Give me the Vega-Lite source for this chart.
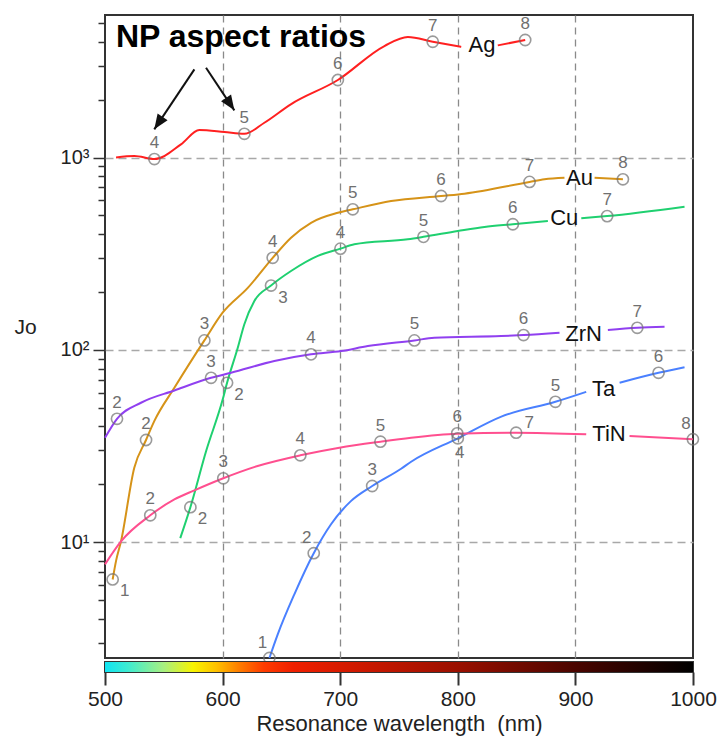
{
  "$schema": "https://vega.github.io/schema/vega-lite/v6.json",
  "autosize": {"type": "pad"},
  "padding": {"left": 12, "top": 12, "right": 2, "bottom": 5},
  "bounds": "flush",
  "spacing": 4,
  "background": "white",
  "config": {
    "font": "Liberation Sans",
    "view": {"stroke": "#333", "strokeWidth": 2}
  },
  "datasets": {
    "curves": [
      {"m":"Ag","s":"Ag1","w":509.4,"j":1000},{"m":"Ag","s":"Ag1","w":525,"j":1018},{"m":"Ag","s":"Ag1","w":542,"j":982},{"m":"Ag","s":"Ag1","w":564.6,"j":1171},{"m":"Ag","s":"Ag1","w":580.2,"j":1390},{"m":"Ag","s":"Ag1","w":601.5,"j":1358},{"m":"Ag","s":"Ag1","w":618.5,"j":1329},{"m":"Ag","s":"Ag1","w":635.5,"j":1517},{"m":"Ag","s":"Ag1","w":658,"j":1892},{"m":"Ag","s":"Ag1","w":698,"j":2530},{"m":"Ag","s":"Ag1","w":737.6,"j":3800},{"m":"Ag","s":"Ag1","w":757.5,"j":4233},{"m":"Ag","s":"Ag1","w":778.7,"j":4000},{"m":"Ag","s":"Ag1","w":802.9,"j":3760},
      {"m":"Ag","s":"Ag2","w":834,"j":3830},{"m":"Ag","s":"Ag2","w":857.3,"j":4085},
      {"m":"Au","s":"Au1","w":506.5,"j":6.4},{"m":"Au","s":"Au1","w":509.4,"j":8.0},{"m":"Au","s":"Au1","w":513.6,"j":10.1},{"m":"Au","s":"Au1","w":524.9,"j":24.4},{"m":"Au","s":"Au1","w":534.9,"j":34},{"m":"Au","s":"Au1","w":541.9,"j":42.6},{"m":"Au","s":"Au1","w":559,"j":63.5},{"m":"Au","s":"Au1","w":584.5,"j":112},{"m":"Au","s":"Au1","w":600,"j":156},{"m":"Au","s":"Au1","w":621.4,"j":210},{"m":"Au","s":"Au1","w":642.6,"j":301},{"m":"Au","s":"Au1","w":658.2,"j":383},{"m":"Au","s":"Au1","w":675.2,"j":458},{"m":"Au","s":"Au1","w":698,"j":516},{"m":"Au","s":"Au1","w":710.7,"j":538},{"m":"Au","s":"Au1","w":743.3,"j":594},{"m":"Au","s":"Au1","w":785.8,"j":631},{"m":"Au","s":"Au1","w":805.7,"j":649},{"m":"Au","s":"Au1","w":861,"j":747},{"m":"Au","s":"Au1","w":873.7,"j":771},{"m":"Au","s":"Au1","w":890.7,"j":785},
      {"m":"Au","s":"Au2","w":916.3,"j":785},{"m":"Au","s":"Au2","w":940.4,"j":771},
      {"m":"Cu","s":"Cu1","w":564,"j":10.5},{"m":"Cu","s":"Cu1","w":572.6,"j":15.2},{"m":"Cu","s":"Cu1","w":586,"j":29.8},{"m":"Cu","s":"Cu1","w":600,"j":55},{"m":"Cu","s":"Cu1","w":603.8,"j":67.4},{"m":"Cu","s":"Cu1","w":612.9,"j":102.6},{"m":"Cu","s":"Cu1","w":618.5,"j":136},{"m":"Cu","s":"Cu1","w":627,"j":179.5},{"m":"Cu","s":"Cu1","w":641.2,"j":216},{"m":"Cu","s":"Cu1","w":658.2,"j":257},{"m":"Cu","s":"Cu1","w":681,"j":308},{"m":"Cu","s":"Cu1","w":700.2,"j":336},{"m":"Cu","s":"Cu1","w":712,"j":354},{"m":"Cu","s":"Cu1","w":757.5,"j":376},{"m":"Cu","s":"Cu1","w":770.8,"j":387},{"m":"Cu","s":"Cu1","w":800,"j":415},{"m":"Cu","s":"Cu1","w":822.7,"j":436},{"m":"Cu","s":"Cu1","w":846.8,"j":450},{"m":"Cu","s":"Cu1","w":876.6,"j":468},
      {"m":"Cu","s":"Cu2","w":905,"j":483},{"m":"Cu","s":"Cu2","w":927,"j":496},{"m":"Cu","s":"Cu2","w":992.8,"j":555},
      {"m":"ZrN","s":"ZrN1","w":500,"j":34.9},{"m":"ZrN","s":"ZrN1","w":510.2,"j":43.8},{"m":"ZrN","s":"ZrN1","w":530.6,"j":53.1},{"m":"ZrN","s":"ZrN1","w":559,"j":61.5},{"m":"ZrN","s":"ZrN1","w":590.2,"j":71.6},{"m":"ZrN","s":"ZrN1","w":607.2,"j":76},{"m":"ZrN","s":"ZrN1","w":644,"j":87.5},{"m":"ZrN","s":"ZrN1","w":675.2,"j":94.8},{"m":"ZrN","s":"ZrN1","w":700.8,"j":98.6},{"m":"ZrN","s":"ZrN1","w":723.5,"j":104.7},{"m":"ZrN","s":"ZrN1","w":763.1,"j":112},{"m":"ZrN","s":"ZrN1","w":780,"j":115.6},{"m":"ZrN","s":"ZrN1","w":836.9,"j":118},{"m":"ZrN","s":"ZrN1","w":855.9,"j":119.4},{"m":"ZrN","s":"ZrN1","w":886.5,"j":122.8},
      {"m":"ZrN","s":"ZrN2","w":927.6,"j":126.8},{"m":"ZrN","s":"ZrN2","w":952.6,"j":130.3},{"m":"ZrN","s":"ZrN2","w":975.8,"j":131.8},
      {"m":"Ta","s":"Ta1","w":639.8,"j":2.5},{"m":"Ta","s":"Ta1","w":646.8,"j":3.31},{"m":"Ta","s":"Ta1","w":661,"j":5.36},{"m":"Ta","s":"Ta1","w":677.5,"j":8.77},{"m":"Ta","s":"Ta1","w":692.2,"j":12.4},{"m":"Ta","s":"Ta1","w":709.3,"j":16.4},{"m":"Ta","s":"Ta1","w":727.2,"j":19.6},{"m":"Ta","s":"Ta1","w":751.8,"j":24.1},{"m":"Ta","s":"Ta1","w":760.3,"j":26.2},{"m":"Ta","s":"Ta1","w":800,"j":34.7},{"m":"Ta","s":"Ta1","w":837,"j":45},{"m":"Ta","s":"Ta1","w":883,"j":53.7},{"m":"Ta","s":"Ta1","w":909.2,"j":60.5},
      {"m":"Ta","s":"Ta2","w":937.6,"j":67.5},{"m":"Ta","s":"Ta2","w":970.7,"j":76},{"m":"Ta","s":"Ta2","w":992.8,"j":81.3},
      {"m":"TiN","s":"TiN1","w":500,"j":7.67},{"m":"TiN","s":"TiN1","w":513.6,"j":10.1},{"m":"TiN","s":"TiN1","w":538.5,"j":13.8},{"m":"TiN","s":"TiN1","w":559,"j":16.7},{"m":"TiN","s":"TiN1","w":576,"j":18.6},{"m":"TiN","s":"TiN1","w":600.6,"j":21.5},{"m":"TiN","s":"TiN1","w":629.8,"j":24.9},{"m":"TiN","s":"TiN1","w":666.1,"j":28.3},{"m":"TiN","s":"TiN1","w":699.3,"j":31},{"m":"TiN","s":"TiN1","w":734.2,"j":33.3},{"m":"TiN","s":"TiN1","w":760.3,"j":34.9},{"m":"TiN","s":"TiN1","w":799.5,"j":36.6},{"m":"TiN","s":"TiN1","w":849.6,"j":37.1},{"m":"TiN","s":"TiN1","w":909.2,"j":36.4},
      {"m":"TiN","s":"TiN2","w":946,"j":35.7},{"m":"TiN","s":"TiN2","w":999.9,"j":34.3}
    ],
    "pts": [
      {"m":"Ag","w":542,"j":982,"n":"4","p":"a"},{"m":"Ag","w":618.5,"j":1329,"n":"5","p":"a"},{"m":"Ag","w":698,"j":2530,"n":"6","p":"a"},{"m":"Ag","w":778.7,"j":4000,"n":"7","p":"a"},{"m":"Ag","w":857.3,"j":4085,"n":"8","p":"a"},
      {"m":"Au","w":506.5,"j":6.4,"n":"1","p":"br"},{"m":"Au","w":534.9,"j":34,"n":"2","p":"a"},{"m":"Au","w":584.5,"j":112,"n":"3","p":"a"},{"m":"Au","w":642.6,"j":301,"n":"4","p":"a"},{"m":"Au","w":710.7,"j":538,"n":"5","p":"a"},{"m":"Au","w":785.8,"j":631,"n":"6","p":"a"},{"m":"Au","w":861,"j":747,"n":"7","p":"a"},{"m":"Au","w":940.4,"j":771,"n":"8","p":"a"},
      {"m":"Cu","w":572.6,"j":15.2,"n":"2","p":"br"},{"m":"Cu","w":603.8,"j":67.4,"n":"2","p":"br"},{"m":"Cu","w":641.2,"j":216,"n":"3","p":"br"},{"m":"Cu","w":700.2,"j":336,"n":"4","p":"a"},{"m":"Cu","w":770.8,"j":387,"n":"5","p":"a"},{"m":"Cu","w":846.8,"j":450,"n":"6","p":"a"},{"m":"Cu","w":927,"j":496,"n":"7","p":"a"},
      {"m":"ZrN","w":510.2,"j":43.8,"n":"2","p":"a"},{"m":"ZrN","w":590.2,"j":71.6,"n":"3","p":"a"},{"m":"ZrN","w":675.2,"j":94.8,"n":"4","p":"a"},{"m":"ZrN","w":763.1,"j":112,"n":"5","p":"a"},{"m":"ZrN","w":855.9,"j":119.4,"n":"6","p":"a"},{"m":"ZrN","w":952.6,"j":130.3,"n":"7","p":"a"},
      {"m":"Ta","w":639.8,"j":2.5,"n":"1","p":"al"},{"m":"Ta","w":677.5,"j":8.77,"n":"2","p":"al"},{"m":"Ta","w":727.2,"j":19.6,"n":"3","p":"a"},{"m":"Ta","w":800,"j":34.7,"n":"4","p":"b"},{"m":"Ta","w":883,"j":53.7,"n":"5","p":"a"},{"m":"Ta","w":970.7,"j":76,"n":"6","p":"a"},
      {"m":"TiN","w":538.5,"j":13.8,"n":"2","p":"a"},{"m":"TiN","w":600.6,"j":21.5,"n":"3","p":"a"},{"m":"TiN","w":666.1,"j":28.3,"n":"4","p":"a"},{"m":"TiN","w":734.2,"j":33.3,"n":"5","p":"a"},{"m":"TiN","w":799.5,"j":36.8,"n":"6","p":"a"},{"m":"TiN","w":849.6,"j":37.1,"n":"7","p":"ar"},{"m":"TiN","w":999.9,"j":34.3,"n":"8","p":"al"}
    ],
    "names": [
      {"t":"Ag","w":820.6,"j":3846},{"t":"Au","w":903.5,"j":785},{"t":"Cu","w":890.5,"j":487},{"t":"ZrN","w":907,"j":120.4},{"t":"Ta","w":924,"j":62.5},{"t":"TiN","w":928.6,"j":36.4}
    ],
    "note": [{"t":"NP aspect ratios","w":615.7,"j":4233}],
    "arrows": [
      {"a":"L","w":576,"j":2875,"w2":541.9,"j2":1402},
      {"a":"R","w":585.9,"j":2931,"w2":610,"j2":1760}
    ],
    "bar": [{"a":500,"b":1000}]
  },
  "vconcat": [
    {
      "width": 588,
      "height": 643,
      "encoding": {
        "x": {"field": "w", "type": "quantitative",
          "scale": {"domain": [500, 1000], "nice": false, "zero": false},
          "axis": {"title": null, "labels": false, "ticks": false, "domain": false, "grid": true,
            "values": [600, 700, 800, 900], "gridDash": [7, 5], "gridColor": "#8a8a8a", "gridWidth": 1.3}},
        "y": {"field": "j", "type": "quantitative",
          "scale": {"type": "log", "domain": [2.5, 5510], "nice": false},
          "axis": {
            "title": "Jo", "titleAngle": 0, "titleAlign": "center", "titleBaseline": "middle",
            "titleX": -80, "titleY": 312, "titleFontSize": 21, "titleFontWeight": "normal", "titleColor": "#222",
            "values": [3,4,5,6,7,8,9,10,20,30,40,50,60,70,80,90,100,200,300,400,500,600,700,800,900,1000,2000,3000,4000,5000],
            "labelExpr": "datum.value == 10 ? '10¹' : datum.value == 100 ? '10²' : datum.value == 1000 ? '10³' : ''",
            "labelFontSize": 20, "labelColor": "#222", "labelPadding": 4, "labelOverlap": false, "labelFlush": false,
            "tickSize": {"condition": {"test": "datum.value == 10 || datum.value == 100 || datum.value == 1000", "value": 12}, "value": 7},
            "tickColor": "#333", "tickWidth": 1.5,
            "domain": false,
            "grid": true, "gridDash": [8, 5], "gridColor": "#a8a8a8", "gridWidth": 1.3,
            "gridOpacity": {"condition": {"test": "datum.value == 10 || datum.value == 100 || datum.value == 1000", "value": 1}, "value": 0}
          }}
      },
      "layer": [
        {
          "data": {"name": "curves"},
          "mark": {"type": "line", "strokeWidth": 2, "interpolate": "monotone"},
          "encoding": {
            "detail": {"field": "s"},
            "color": {"field": "m", "type": "nominal", "legend": null,
              "scale": {"domain": ["Ag","Au","Cu","ZrN","Ta","TiN"], "range": ["#ff2020","#d69318","#1fd070","#9040f0","#4a80ff","#ff4f8f"]}}
          }
        },
        {
          "data": {"name": "pts"},
          "mark": {"type": "point", "shape": "circle", "size": 125, "filled": false, "stroke": "#707070", "strokeWidth": 1.6},
          "encoding": {}
        },
        {
          "data": {"name": "pts"},
          "transform": [{"filter": "datum.p == 'a'"}],
          "mark": {"type": "text", "fontSize": 17, "color": "#707070", "baseline": "middle", "align": "center", "dy": -16},
          "encoding": {"text": {"field": "n"}}
        },
        {
          "data": {"name": "pts"},
          "transform": [{"filter": "datum.p == 'br'"}],
          "mark": {"type": "text", "fontSize": 17, "color": "#707070", "baseline": "middle", "align": "center", "dx": 12, "dy": 12},
          "encoding": {"text": {"field": "n"}}
        },
        {
          "data": {"name": "pts"},
          "transform": [{"filter": "datum.p == 'b'"}],
          "mark": {"type": "text", "fontSize": 17, "color": "#707070", "baseline": "middle", "align": "center", "dx": 2, "dy": 15},
          "encoding": {"text": {"field": "n"}}
        },
        {
          "data": {"name": "pts"},
          "transform": [{"filter": "datum.p == 'ar'"}],
          "mark": {"type": "text", "fontSize": 17, "color": "#707070", "baseline": "middle", "align": "center", "dx": 13, "dy": -10},
          "encoding": {"text": {"field": "n"}}
        },
        {
          "data": {"name": "pts"},
          "transform": [{"filter": "datum.p == 'al'"}],
          "mark": {"type": "text", "fontSize": 17, "color": "#707070", "baseline": "middle", "align": "center", "dx": -7, "dy": -15},
          "encoding": {"text": {"field": "n"}}
        },
        {
          "data": {"name": "names"},
          "mark": {"type": "text", "fontSize": 22, "color": "#111", "baseline": "middle", "align": "center"},
          "encoding": {"text": {"field": "t"}}
        },
        {
          "data": {"name": "note"},
          "mark": {"type": "text", "fontSize": 32, "fontWeight": "bold", "color": "#000", "baseline": "middle", "align": "center"},
          "encoding": {"text": {"field": "t"}}
        },
        {
          "data": {"name": "arrows"},
          "mark": {"type": "rule", "strokeWidth": 2, "color": "#111"},
          "encoding": {"x2": {"field": "w2"}, "y2": {"field": "j2"}}
        },
        {
          "data": {"name": "arrows"},
          "transform": [{"filter": "datum.a == 'L'"}],
          "mark": {"type": "point", "shape": "M0,0L0.4,1L-0.4,1Z", "size": 900, "filled": true, "color": "#111", "opacity": 1, "angle": 213.7},
          "encoding": {"x": {"field": "w2", "type": "quantitative"}, "y": {"field": "j2", "type": "quantitative"}}
        },
        {
          "data": {"name": "arrows"},
          "transform": [{"filter": "datum.a == 'R'"}],
          "mark": {"type": "point", "shape": "M0,0L0.4,1L-0.4,1Z", "size": 900, "filled": true, "color": "#111", "opacity": 1, "angle": 146.4},
          "encoding": {"x": {"field": "w2", "type": "quantitative"}, "y": {"field": "j2", "type": "quantitative"}}
        }
      ]
    },
    {
      "width": 588,
      "height": 10,
      "data": {"name": "bar"},
      "mark": {
        "type": "rect",
        "fill": {"gradient": "linear", "x1": 0, "x2": 1, "y1": 0, "y2": 0,
          "stops": [
            {"offset": 0, "color": "#10e4f2"},
            {"offset": 0.04, "color": "#40ecd0"},
            {"offset": 0.10, "color": "#a8f080"},
            {"offset": 0.15, "color": "#f8f400"},
            {"offset": 0.19, "color": "#ffc000"},
            {"offset": 0.23, "color": "#ff7a00"},
            {"offset": 0.27, "color": "#ff3c00"},
            {"offset": 0.32, "color": "#f02000"},
            {"offset": 0.45, "color": "#c81800"},
            {"offset": 0.60, "color": "#9a1000"},
            {"offset": 0.80, "color": "#4a0500"},
            {"offset": 1, "color": "#000000"}
          ]}
      },
      "encoding": {
        "x": {"field": "a", "type": "quantitative",
          "scale": {"domain": [500, 1000], "nice": false, "zero": false},
          "axis": {"title": "Resonance wavelength\u00a0 (nm)", "values": [500, 600, 700, 800, 900, 1000], "format": "d",
            "tickSize": 13, "tickWidth": 2, "tickColor": "#333", "domain": false, "grid": false,
            "labelFontSize": 21, "labelColor": "#222", "labelPadding": 3, "labelFlush": false,
            "titleFontSize": 22, "titleFontWeight": "normal", "titleColor": "#222", "titlePadding": 4}},
        "x2": {"field": "b"}
      }
    }
  ]
}
